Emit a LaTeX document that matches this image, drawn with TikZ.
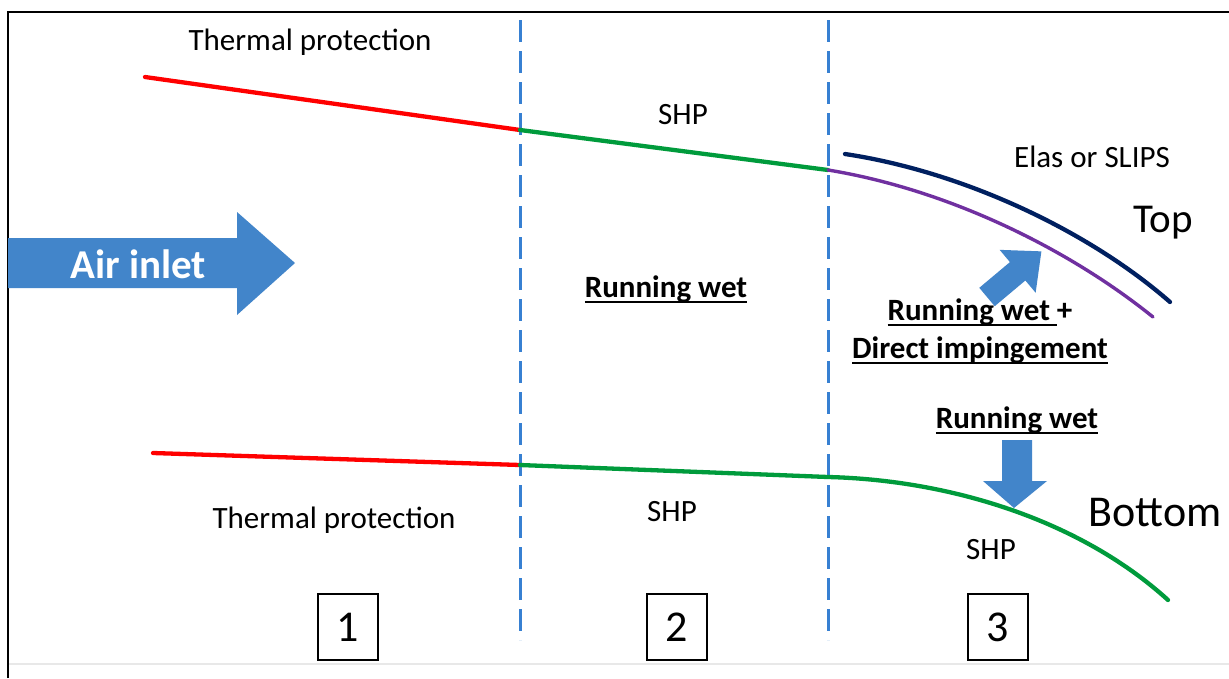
\documentclass[tikz,border=0pt]{standalone}
\usepackage{fontspec}
\setmainfont{Carlito}
\definecolor{arrblue}{RGB}{66,133,202}
\definecolor{dashblue}{RGB}{55,128,210}
\definecolor{lgreen}{RGB}{0,155,60}
\definecolor{lpurple}{RGB}{112,48,160}
\definecolor{lnavy}{RGB}{0,32,96}
\newcommand\myul[1]{\setbox0\hbox{#1}\rlap{\raisebox{-0.17em}{\rule{\wd0}{1.6pt}}}\box0}
\tikzset{
  lbl/.style={font=\fontsize{31}{36}\selectfont, inner sep=0pt},
  blbl/.style={font=\fontsize{31}{38}\selectfont\bfseries, inner sep=0pt, align=center},
  big/.style={font=\fontsize{41}{48}\selectfont, inner sep=0pt},
  numbox/.style={draw, line width=1.8pt, minimum width=60pt, minimum height=66pt, inner sep=0pt, font=\fontsize{44}{50}\selectfont},
  divider/.style={dashblue, line width=3pt, dash pattern=on 22pt off 9pt},
  curve/.style={line width=4.3pt, line cap=round},
  blockarrow/.style={fill=arrblue, draw=none}
}
\begin{document}
\begin{tikzpicture}[x=1pt,y=-1pt]
\useasboundingbox[fill=white] (0,0) rectangle (1229,678);
% frame
\draw[gray!18, line width=2pt] (8,664) -- (1229,664);
\draw[line width=2.6pt] (8,678) -- (8,12) -- (1229,12);
% dividers
\coordinate (d1a) at (520,20); \coordinate (d1b) at (520,640);
\coordinate (d2a) at (828,20); \coordinate (d2b) at (828,640);
\draw[divider] (d1a) -- (d1b);
\draw[divider] (d2a) -- (d2b);
% top surface
\coordinate (t0) at (145,77); \coordinate (t1) at (520,130);
\coordinate (t2) at (828,170); \coordinate (t3) at (1153,317);
\coordinate (n0) at (845,154); \coordinate (n1) at (1170,302);
\draw[curve, red] (t0) -- (t1);
\draw[curve, lgreen] (t1) -- (t2);
\draw[curve, lpurple, line width=3.4pt] (t2) .. controls (950,190) and (1070,250) .. (t3);
\draw[curve, lnavy] (n0) .. controls (965,172) and (1090,232) .. (n1);
% bottom surface
\coordinate (b0) at (153,453); \coordinate (b1) at (520,465);
\coordinate (b2) at (828,477); \coordinate (b3) at (1168,600);
\draw[curve, red] (b0) -- (b1);
\draw[curve, lgreen] (b1) -- (b2) .. controls (950,480) and (1080,520) .. (b3);
% air inlet arrow
\fill[blockarrow] (8,238) -- (237,238) -- (237,212) -- (295,263) -- (237,315) -- (237,288) -- (8,288) -- cycle;
\node[font=\fontsize{41}{46}\selectfont\bfseries, text=white, inner sep=0pt] (air) at (138,264) {Air inlet};
% diagonal arrow
\begin{scope}[shift={(987,297)}, rotate=40]
\fill[blockarrow] (0,-12) -- (40,-12) -- (40,-28) -- (71,0) -- (40,28) -- (40,12) -- (0,12) -- cycle;
\end{scope}
% down arrow
\fill[blockarrow] (1002,440) -- (1032,440) -- (1032,481) -- (1047,481) -- (1014,508) -- (983,481) -- (1002,481) -- cycle;
% labels
\node[lbl] (tp1) at (310,42) {Thermal protection};
\node[lbl] (shp1) at (683,115) {SHP};
\node[lbl] (elas) at (1092,157) {Elas or SLIPS};
\node[big] (top) at (1163,223) {Top};
\node[blbl] (rw1) at (666,289) {\myul{Running wet}};
\node[blbl] (rw2) at (980,331) {\myul{Running wet }+\\\myul{Direct impingement}};
\node[blbl] (rw3) at (1017,420) {\myul{Running wet}};
\node[big, font=\fontsize{44}{50}\selectfont] (bot) at (1155,513) {Bottom};
\node[lbl] (tp2) at (334,520) {Thermal protection};
\node[lbl] (shp2) at (672,512) {SHP};
\node[lbl] (shp3) at (991,550) {SHP};
% zone numbers
\node[numbox] (z1) at (348,627) {1};
\node[numbox] (z2) at (677,627) {2};
\node[numbox] (z3) at (998,627) {3};
\end{tikzpicture}
\end{document}
